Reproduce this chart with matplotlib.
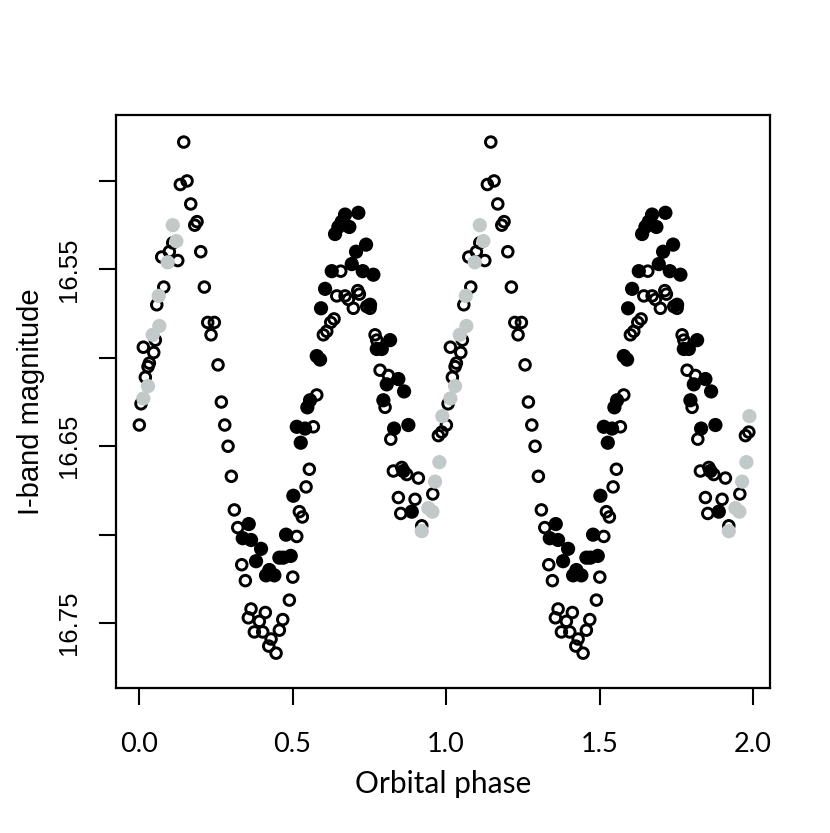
import matplotlib
matplotlib.use("Agg")
import matplotlib.pyplot as plt
import numpy as np

# ---- data (phase in [0,1), I-band magnitude) ----
phase_open = [0.001, 0.0065, 0.0205, 0.0293, 0.0336, 0.0479, 0.014, 0.0531, 0.0577, 0.0805,
              0.0739, 0.0987, 0.1261, 0.1098, 0.1814, 0.1889, 0.1684, 0.1345, 0.1564, 0.1456,
              0.2010, 0.2127, 0.2238, 0.2453, 0.2345, 0.2573, 0.2681, 0.2792, 0.2899, 0.3007,
              0.3104, 0.3215, 0.3345, 0.3463, 0.3648, 0.3560, 0.3919, 0.4114, 0.3756, 0.4029,
              0.4300, 0.4225, 0.4463, 0.4570, 0.4681, 0.4896, 0.5007, 0.5137, 0.5221, 0.5319,
              0.5440, 0.5547, 0.5678, 0.5788, 0.6003, 0.6114, 0.6244, 0.6352, 0.6570, 0.6440,
              0.6710, 0.6818, 0.7124, 0.7176, 0.6980, 0.7417, 0.7524, 0.7687, 0.7743, 0.7850,
              0.8121, 0.8013, 0.8199, 0.8283, 0.8557, 0.8720, 0.9098, 0.8446, 0.8990, 0.8524,
              0.9208, 0.9567, 0.9749, 0.9860]
mag_open = [16.638, 16.626, 16.611, 16.605, 16.603, 16.597, 16.594, 16.590, 16.570, 16.560,
            16.543, 16.540, 16.545, 16.535, 16.525, 16.523, 16.513, 16.502, 16.500, 16.478,
            16.540, 16.560, 16.580, 16.580, 16.587, 16.604, 16.625, 16.638, 16.650, 16.667,
            16.686, 16.696, 16.717, 16.726, 16.742, 16.747, 16.749, 16.744, 16.755, 16.755,
            16.759, 16.763, 16.767, 16.754, 16.748, 16.737, 16.724, 16.701, 16.687, 16.690,
            16.673, 16.663, 16.639, 16.621, 16.587, 16.585, 16.580, 16.578, 16.551, 16.565,
            16.565, 16.567, 16.562, 16.564, 16.572, 16.571, 16.572, 16.587, 16.590, 16.607,
            16.610, 16.628, 16.646, 16.664, 16.662, 16.666, 16.668, 16.679, 16.680, 16.688,
            16.695, 16.677, 16.644, 16.642]

phase_filled = [0.3573, 0.3378, 0.3648, 0.3974, 0.3811, 0.4244, 0.4407, 0.4137, 0.4788, 0.4570,
                0.4941, 0.4700, 0.5026, 0.5267, 0.5137, 0.5407, 0.5482, 0.5570, 0.5788, 0.5896,
                0.5928, 0.6059, 0.6277, 0.7524, 0.6384, 0.6492, 0.6603, 0.6710, 0.6850, 0.7143,
                0.7394, 0.7068, 0.6928, 0.7287, 0.7632, 0.8176, 0.7743, 0.7906, 0.8446, 0.8068,
                0.8632, 0.7958, 0.8306, 0.8772, 0.8609, 0.8883]
mag_filled = [16.694, 16.702, 16.703, 16.708, 16.715, 16.720, 16.723, 16.723, 16.700, 16.713,
              16.712, 16.713, 16.678, 16.648, 16.639, 16.640, 16.628, 16.624, 16.599, 16.601,
              16.572, 16.561, 16.551, 16.570, 16.530, 16.526, 16.523, 16.519, 16.526, 16.518,
              16.536, 16.540, 16.547, 16.551, 16.553, 16.590, 16.595, 16.595, 16.612, 16.615,
              16.619, 16.624, 16.640, 16.638, 16.664, 16.687]

phase_gray = [0.0140, 0.0293, 0.0446, 0.0661, 0.0642, 0.0935, 0.1215, 0.1098,
              0.9208, 0.9423, 0.9554, 0.9642, 0.9782, 0.9879]
mag_gray = [16.623, 16.616, 16.587, 16.582, 16.565, 16.546, 16.534, 16.525,
            16.698, 16.685, 16.687, 16.670, 16.659, 16.633]

xticks = [0.0, 0.5, 1.0, 1.5, 2.0]
xticklabels = ["0.0", "0.5", "1.0", "1.5", "2.0"]
yticks = [16.50, 16.55, 16.60, 16.65, 16.70, 16.75]
yticklabels = ["", "16.55", "", "16.65", "", "16.75"]


def two_cycles(p, m):
    p = np.asarray(p)
    m = np.asarray(m)
    return np.concatenate([p, p + 1]), np.concatenate([m, m])


fig = plt.figure(figsize=(8.30, 8.33), dpi=100)
ax = fig.add_axes([116 / 830, 1 - 688 / 833, (770 - 116) / 830, (688 - 115) / 833])

px, py = two_cycles(phase_open, mag_open)
ax.scatter(px, py, s=58, facecolors="none", edgecolors="black", linewidths=2.1, zorder=2)
px, py = two_cycles(phase_filled, mag_filled)
ax.scatter(px, py, s=105, facecolors="black", edgecolors="none", zorder=3)
px, py = two_cycles(phase_gray, mag_gray)
ax.scatter(px, py, s=105, facecolors="#c2c9c9", edgecolors="none", zorder=4)

ax.set_xlim(-0.075, 2.055)
ax.set_ylim(16.7867, 16.4627)

ax.set_xticks(xticks)
ax.set_xticklabels(xticklabels, fontfamily="Lato", fontsize=19.5)
ax.set_yticks(yticks)
ax.set_yticklabels(yticklabels, fontfamily="Liberation Sans", fontsize=18.5,
                   rotation=90, va="center")
ax.tick_params(axis="both", direction="out", length=12, width=1.5, color="black")
ax.tick_params(axis="x", pad=20)
ax.tick_params(axis="y", pad=13)

for s in ax.spines.values():
    s.set_linewidth(1.6)
    s.set_color("black")

ax.set_xlabel("Orbital phase", fontfamily="Lato", fontsize=21.5, labelpad=9)
ax.set_ylabel("I-band magnitude", fontfamily="Liberation Sans", fontsize=21, labelpad=9)

fig.savefig("out.png", dpi=100)
